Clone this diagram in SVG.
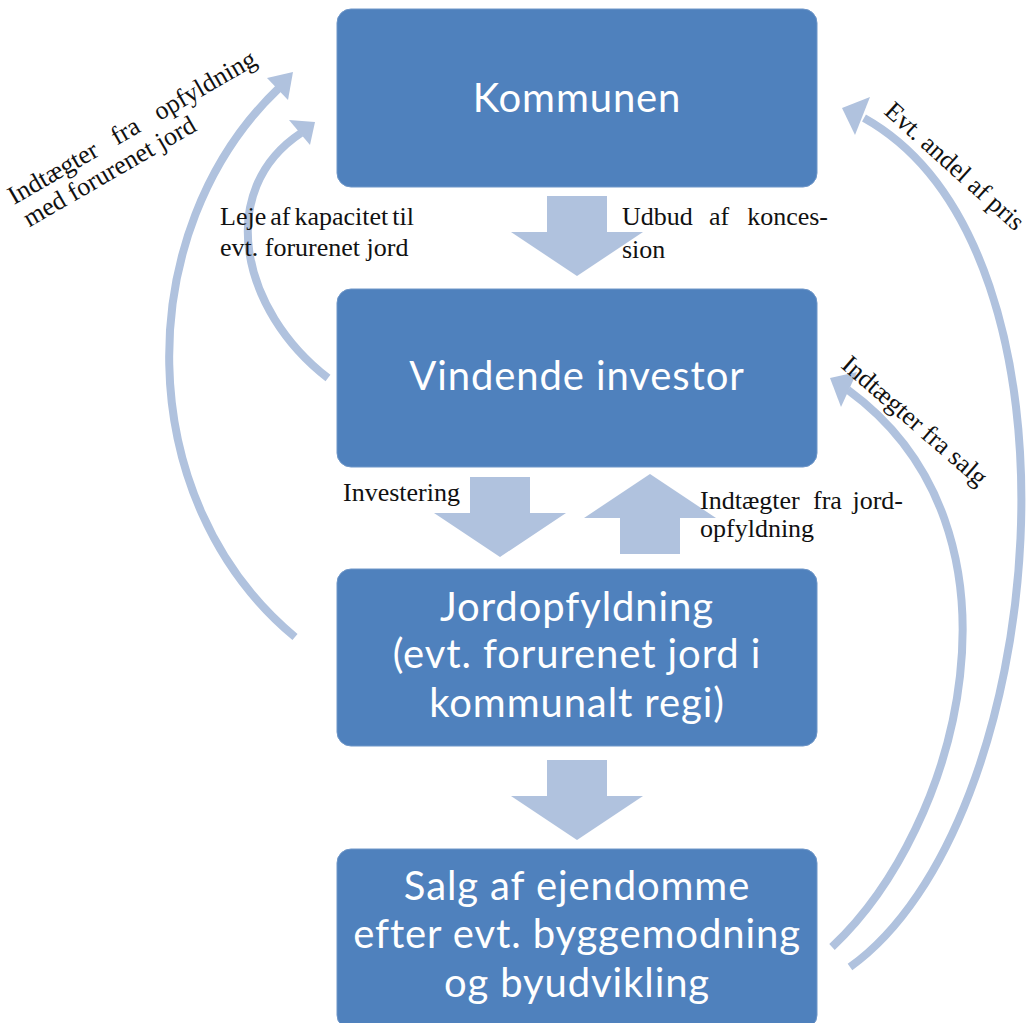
<svg xmlns="http://www.w3.org/2000/svg" width="1034" height="1023" viewBox="0 0 1034 1023">
<style>
.box{fill:#4F81BD;stroke:#6E96C8;stroke-width:1}
.bt{font-family:Lato,"Open Sans",sans-serif;font-size:40px;letter-spacing:0.9px;fill:#fff;text-anchor:middle}
.blk{fill:#B0C2DE}
.cv{fill:none;stroke:#B0C2DE;stroke-width:8}
.hd{fill:#B0C2DE}
.lb{font-family:"Liberation Serif","Times New Roman",serif;font-size:26px;fill:#111}
</style>
<rect width="1034" height="1023" fill="#fff"/>
<g id="connectors">
<polygon class="blk" points="547,196 607,196 607,232 643,232 577,276 511,232 547,232"/>
<polygon class="blk" points="470,477 530,477 530,513 566,513 500,557 434,513 470,513"/>
<polygon class="blk" points="620,554 680,554 680,518 716,518 650,474 584,518 620,518"/>
<polygon class="blk" points="547,760 607,760 607,796 643,796 577,840 511,796 547,796"/>
<path class="cv" d="M295,637 C130,500 130,230 279,88"/>
<polygon class="hd" points="293,72 267,78 288,100"/>
<path class="cv" d="M328,378 C240,310 215,190 301,133"/>
<polygon class="hd" points="315,122 289,120 310,145"/>
<path class="cv" d="M850,967 C1050,824 1100,250 864,118"/>
<polygon class="hd" points="842,108 870,97 855,135"/>
<path class="cv" d="M832,947 C960,827 1040,530 848,390"/>
<polygon class="hd" points="830,378 857,372 841,407"/>
</g>
<g id="labels">
<text class="lb" x="220" y="225" word-spacing="-2.5">Leje af kapacitet til</text>
<text class="lb" x="220" y="256">evt. forurenet jord</text>
<text class="lb" y="225"><tspan x="622">Udbud</tspan><tspan x="709">af</tspan><tspan x="828" text-anchor="end">konces-</tspan></text>
<text class="lb" x="622" y="258">sion</text>
<text class="lb" x="343" y="501">Investering</text>
<text class="lb" y="509"><tspan x="700">Indtægter</tspan><tspan x="813">fra</tspan><tspan x="903" text-anchor="end">jord-</tspan></text>
<text class="lb" x="700" y="537">opfyldning</text>
<g transform="translate(14,205) rotate(-30)">
<text class="lb"><tspan x="0" y="0">Indtægter</tspan><tspan x="119" y="0">fra</tspan><tspan x="282" y="0" text-anchor="end">opfyldning</tspan></text>
<text class="lb" x="2" y="27">med forurenet jord</text>
</g>
<text class="lb" transform="translate(883,113) rotate(42)">Evt. andel af pris</text>
<text class="lb" transform="translate(840,367) rotate(41)">Indtægter fra salg</text>
</g>
<g id="kommunen">
<rect class="box" x="337" y="9" width="480" height="178" rx="14"/>
<text class="bt" x="577" y="112">Kommunen</text>
</g>
<g id="vindende-investor">
<rect class="box" x="337" y="289" width="480" height="178" rx="14"/>
<text class="bt" x="577" y="390">Vindende investor</text>
</g>
<g id="jordopfyldning">
<rect class="box" x="337" y="569" width="480" height="177" rx="14"/>
<text class="bt" x="577" y="621">Jordopfyldning</text>
<text class="bt" x="577" y="668">(evt. forurenet jord i</text>
<text class="bt" x="577" y="717">kommunalt regi)</text>
</g>
<g id="salg">
<rect class="box" x="337" y="849" width="480" height="180" rx="14"/>
<text class="bt" x="577" y="900">Salg af ejendomme</text>
<text class="bt" x="577" y="948">efter evt. byggemodning</text>
<text class="bt" x="577" y="997">og byudvikling</text>
</g>
</svg>
